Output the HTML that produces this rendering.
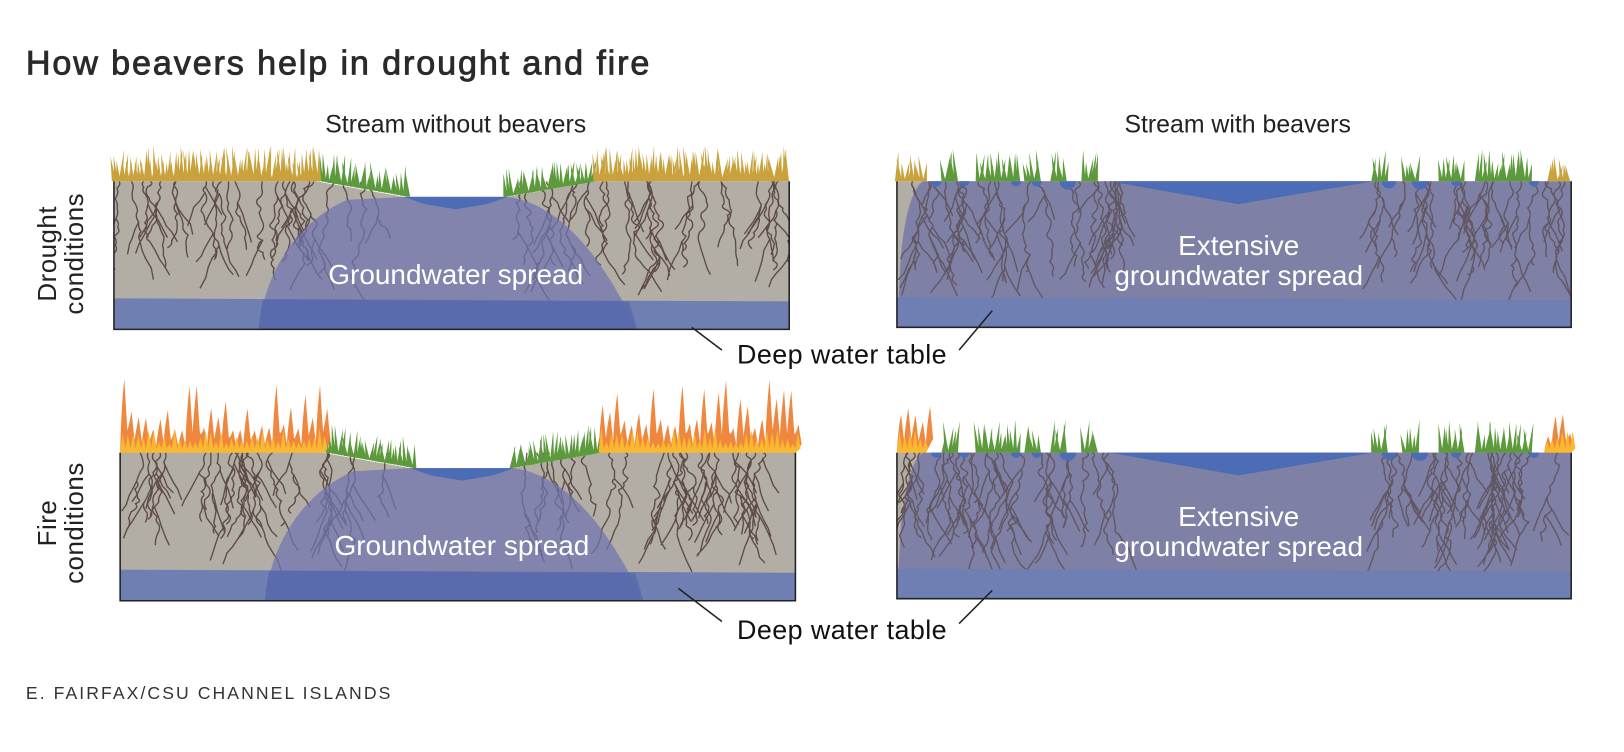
<!DOCTYPE html>
<html><head><meta charset="utf-8">
<style>
html,body{margin:0;padding:0;background:#fff;}
body{width:1624px;height:752px;overflow:hidden;}
svg{display:block;}
text{font-family:"Liberation Sans",sans-serif;}
</style></head>
<body>
<svg id="s" width="1624" height="752" viewBox="0 0 1568 726" xmlns="http://www.w3.org/2000/svg">
<text x="25" y="72" font-size="33" fill="#2a2a2a" stroke="#2a2a2a" stroke-width="0.8" letter-spacing="1.8">How beavers help in drought and fire</text>
<text x="440" y="128" font-size="24" fill="#222" text-anchor="middle">Stream without beavers</text>
<text x="1195" y="128" font-size="24" fill="#222" text-anchor="middle">Stream with beavers</text>
<g id="panels"></g>
<text transform="translate(60,245) rotate(-90)" font-size="25" fill="#222" text-anchor="middle" letter-spacing="0.5"><tspan x="0" y="-6">Drought</tspan><tspan x="0" y="20">conditions</tspan></text>
<text transform="translate(60,505) rotate(-90)" font-size="25" fill="#222" text-anchor="middle" letter-spacing="0.5"><tspan x="0" y="-6">Fire</tspan><tspan x="0" y="20">conditions</tspan></text>
<g stroke="#222" stroke-width="1.5">
<line x1="668" y1="316" x2="697" y2="338"/><line x1="958" y1="300" x2="926" y2="338"/>
<line x1="655" y1="568" x2="697" y2="600"/><line x1="958" y1="570" x2="926" y2="602"/>
</g>
<text x="813" y="351" font-size="26" fill="#111" text-anchor="middle" letter-spacing="0.4">Deep water table</text>
<text x="813" y="617" font-size="26" fill="#111" text-anchor="middle" letter-spacing="0.4">Deep water table</text>
<text x="25" y="675" font-size="17" fill="#333" letter-spacing="2">E. FAIRFAX/CSU CHANNEL ISLANDS</text>
</svg>
<script>
var NS="http://www.w3.org/2000/svg";var P=document.getElementById('panels');
var seed=7;function r(){seed=(seed*16807)%2147483647;return (seed-1)/2147483646;}
var cid=0;
function el(t,a,p){var e=document.createElementNS(NS,t);for(var k in a)e.setAttribute(k,a[k]);(p||P).appendChild(e);return e;}
function roots(g,x0,x1,top,depth,n){var d="";for(var i=0;i<n;i++){var x=x0+r()*(x1-x0),y=top;var L=depth*(0.6+r()*0.4);d+="M"+x.toFixed(1)+","+y;var br=[];while(y<top+L){var nx=x+(r()-0.5)*10,ny=y+5+r()*7;d+=" Q"+(x+(r()-0.5)*9).toFixed(1)+","+((y+ny)/2).toFixed(1)+" "+nx.toFixed(1)+","+ny.toFixed(1);if(r()<0.2)br.push([nx,ny]);x=nx;y=ny;}
br.forEach(function(b){var bx=b[0],by=b[1],s=r()<0.5?-1:1;d+=" M"+bx.toFixed(1)+","+by.toFixed(1);for(var j=0;j<4;j++){bx+=s*(2+r()*4);by+=5+r()*6;d+=" L"+bx.toFixed(1)+","+by.toFixed(1);}});}
el('path',{d:d,fill:'none',stroke:'#4e3a33','stroke-width':1.3,opacity:0.85},g);}
function grass(g,x0,x1,base,h,col,dens,slope){var d="";for(var x=x0;x<x1;x+=dens){var b=base+(slope?slope*(x-x0):0);var hh=h*(0.5+r()*0.5);var tx=x+(r()-0.5)*8;d+="M"+(x-2).toFixed(1)+","+b.toFixed(1)+" L"+tx.toFixed(1)+","+(b-hh).toFixed(1)+" L"+(x+2).toFixed(1)+","+b.toFixed(1)+"Z";}
el('path',{d:d,fill:col},g);}
function flames(g,x0,x1,base,h){var d="M"+x0+","+base;for(var x=x0;x<=x1;x+=7){var hh=h*(0.3+Math.pow(r(),2)*0.7);d+=" Q"+(x+1)+","+(base-hh*0.6).toFixed(1)+" "+(x+4)+","+(base-hh).toFixed(1)+" Q"+(x+6)+","+(base-hh*0.5).toFixed(1)+" "+(x+7)+","+(base-hh*0.3).toFixed(1);}d+=" L"+x1+","+base+"Z";
el('path',{d:d,fill:'#ee7a2a',opacity:0.9},g);var d2="M"+x0+","+base;for(var x=x0;x<=x1;x+=5){d2+=" L"+(x+2.5)+","+(base-8-r()*16).toFixed(1)+" L"+(x+5)+","+(base-4).toFixed(1);}d2+=" L"+x1+","+base+"Z";el('path',{d:d2,fill:'#f8b830'},g);}
function clip(g,w,h){var id='c'+(cid++);var c=el('clipPath',{id:id},g);el('rect',{x:0,y:0,width:w,height:h},c);return el('g',{'clip-path':'url(#'+id+')'},g);}
function left(ox,oy,fire){var g=el('g',{transform:'translate('+ox+','+oy+')'});
el('polygon',{points:"0,0 195,0 280,15 380,15 465,0 652,0 652,143 0,143",fill:'#b2ada5'},g);
var cg=clip(g,652,143);
roots(cg,5,270,0,85,24);roots(cg,380,648,0,85,24);
el('path',{d:"M140,143 C145,90 175,40 225,18 L280,15 380,15 C430,22 470,70 505,143 Z",fill:'#6f74b0',opacity:0.72},g);
el('polygon',{points:"280,15 380,15 360,22 330,27 300,22",fill:'#4d6cb6'},g);
el('polygon',{points:"0,113 652,116 652,143 0,143",fill:'#6477b4',opacity:0.85},g);
el('path',{d:"M140,143 C141,130 142,122 144,114 L497,116 C500,125 503,134 505,143Z",fill:'#4a5ea8',opacity:0.5},g);
el('path',{d:"M0,0 V143 H652 V0",fill:'none',stroke:'#222','stroke-width':1.5},g);
el('text',{x:330,y:99,'font-size':27,fill:'#fff','text-anchor':'middle'},g).textContent="Groundwater spread";
grass(g,200,285,0,30,'#5c9a3c',3,15/85);grass(g,378,465,15,30,'#5c9a3c',3,-15/87);
if(fire){flames(g,0,198,0,72);flames(g,462,652,0,72);}else{grass(g,0,198,0,35,'#c9a23c',2.2);grass(g,465,652,0,35,'#c9a23c',2.2);}}
function right(ox,oy,fire){var g=el('g',{transform:'translate('+ox+','+oy+')'});
el('rect',{x:0,y:0,width:651,height:141,fill:'#b2ada5'},g);
el('path',{d:"M0,141 L4,70 C8,30 15,8 25,0 L651,0 L651,141Z",fill:'#7f80a5'},g);
var cg=clip(g,651,141);
roots(cg,8,220,0,95,26);roots(cg,460,648,0,95,22);
el('path',{d:"M0,141 L4,70 C8,30 15,8 25,0 L651,0 L651,141Z",fill:'#7f80a5',opacity:0.3},g);
el('polygon',{points:"205,0 460,0 330,22",fill:'#4d6cb6'},g);
[[38,5],[65,5],[115,5],[135,5],[165,8],[475,7],[505,8],[540,5],[615,5]].forEach(function(p){el('path',{d:"M"+(p[0]-p[1])+",0 A"+p[1]+","+p[1]+" 0 0 0 "+(p[0]+p[1])+",0Z",fill:'#4d6cb6'},g);});
el('polygon',{points:"0,112 651,115 651,141 0,141",fill:'#6d7fb3'},g);
el('path',{d:"M0,0 V141 H651 V0",fill:'none',stroke:'#222','stroke-width':1.5},g);
el('text',{x:330,y:71,'font-size':27,fill:'#fff','text-anchor':'middle'},g).textContent="Extensive";
el('text',{x:330,y:100,'font-size':27,fill:'#fff','text-anchor':'middle'},g).textContent="groundwater spread";
[[45,58],[78,120],[125,140],[150,165],[180,195],[460,475],[490,505],[525,548],[560,612]].forEach(function(c){grass(g,c[0],c[1],0,32,'#5c9a3c',3);});
if(fire){flames(g,0,28,0,50);flames(g,625,651,0,50);}else{grass(g,0,30,0,30,'#c9a23c',3);grass(g,630,651,0,28,'#c9a23c',3);}}
left(110,175,false);right(866,175,false);left(116,437,true);right(866,437,true);
</script>
</body></html>
